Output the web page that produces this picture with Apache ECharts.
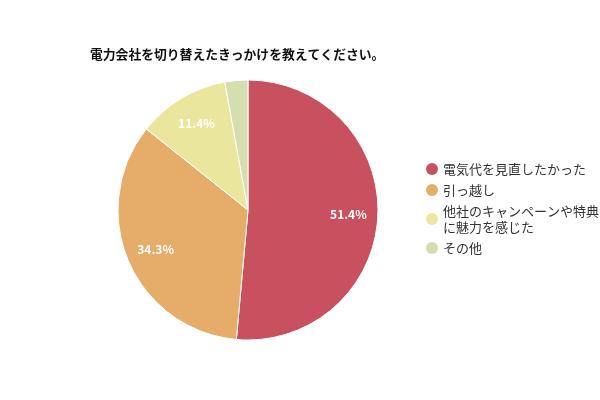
<!DOCTYPE html>
<html><head><meta charset="utf-8">
<script src="https://cdn.jsdelivr.net/npm/echarts@6/dist/echarts.min.js"></script>
<style>html,body{margin:0;padding:0;background:#fff}#c{width:600px;height:400px}</style>
</head><body><div id="c"></div>
<script>
const titleText = '電力会社を切り替えたきっかけを教えてください。';
const categories = ['電気代を見直したかった', '引っ越し', '他社のキャンペーンや特典に魅力を感じた', 'その他'];
const values = [18, 12, 4, 1];
const colors = ['#c9505f', '#e5ac6a', '#ebe69d', '#d5deb0'];

const total = values.reduce((a, b) => a + b, 0);
const data = categories.map((n, i) => ({ name: n, value: values[i], itemStyle: { color: colors[i] } }));
const font = '"Noto Sans CJK JP", "Noto Sans", sans-serif';

const chart = echarts.init(document.getElementById('c'), null, { renderer: 'canvas' });
chart.setOption({
  animation: false,
  title: {
    text: titleText, left: 85, top: 43,
    textStyle: { fontFamily: font, fontSize: 12.8, fontWeight: 'bold', color: '#111' }
  },
  legend: {
    orient: 'vertical', left: 426, top: 161, padding: 0,
    icon: 'circle', itemWidth: 12, itemHeight: 12, itemGap: 5,
    itemStyle: { borderWidth: 0 },
    data: categories,
    textStyle: { fontFamily: font, fontSize: 13, color: '#333', lineHeight: 16, width: 160, overflow: 'break' }
  },
  series: [{
    type: 'pie', center: [248, 210], radius: [0, 130], startAngle: 90, clockwise: true,
    silent: true,
    itemStyle: { borderColor: '#fff', borderWidth: 1 },
    label: { show: false }, labelLine: { show: false },
    data: data
  }, {
    type: 'pie', center: [248, 210], radius: [65, 130], startAngle: 90, clockwise: true,
    silent: true,
    itemStyle: { color: 'rgba(0,0,0,0)', borderWidth: 0 },
    label: {
      show: true, position: 'inside', color: '#fff', fontFamily: font, fontSize: 12, fontWeight: 'bold',
      formatter: p => (p.value / total >= 0.05 ? (p.value / total * 100).toFixed(1) + '%' : '')
    },
    labelLine: { show: false },
    data: categories.map((n, i) => ({ name: n, value: values[i] }))
  }]
});
</script></body></html>
